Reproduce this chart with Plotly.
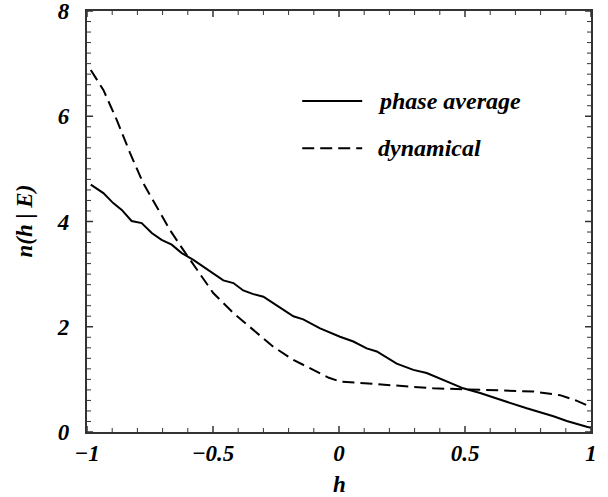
import plotly.graph_objects as go

# phase average (solid)
h_phase = [-0.985, -0.935, -0.896, -0.862, -0.823, -0.783, -0.743, -0.704, -0.664,
           -0.624, -0.578, -0.538, -0.499, -0.459, -0.419, -0.380, -0.340, -0.300,
           -0.261, -0.221, -0.181, -0.142, -0.075, 0.004, 0.057, 0.110, 0.150, 0.229,
           0.295, 0.348, 0.427, 0.493, 0.560, 0.639, 0.745, 0.851, 0.904, 0.983, 1.0]
n_phase = [4.70, 4.54, 4.35, 4.22, 4.01, 3.97, 3.78, 3.65, 3.56,
           3.40, 3.27, 3.14, 3.02, 2.88, 2.83, 2.69, 2.62, 2.57,
           2.45, 2.32, 2.20, 2.14, 1.97, 1.81, 1.72, 1.59, 1.53, 1.30,
           1.18, 1.12, 0.96, 0.83, 0.74, 0.61, 0.45, 0.30, 0.21, 0.10, 0.08]

# dynamical (dashed)
h_dyn = [-0.985, -0.935, -0.882, -0.829, -0.777, -0.723, -0.671, -0.618, -0.565,
         -0.499, -0.419, -0.340, -0.261, -0.181, -0.102, -0.040, 0.004, 0.110,
         0.242, 0.374, 0.507, 0.639, 0.771, 0.877, 0.940, 0.983, 1.0]
n_dyn = [6.88, 6.50, 5.93, 5.30, 4.73, 4.28, 3.84, 3.46, 3.10,
         2.64, 2.26, 1.94, 1.62, 1.37, 1.18, 1.03, 0.96, 0.92,
         0.87, 0.83, 0.81, 0.79, 0.77, 0.70, 0.60, 0.51, 0.48]

legend_names = ["phase average", "dynamical"]

FONT = "Liberation Serif"
DASH = "12px,6px"
tfont = dict(family=FONT, size=23, color="black", weight="bold", style="italic")

X_MIN, X_MAX, X_MINOR_STEPS, X_MAJOR_EVERY = -1.0, 1.0, 20, 5
Y_MIN, Y_MAX, Y_MINOR_STEPS, Y_MAJOR_EVERY = 0.0, 8.0, 40, 10

fig = go.Figure()
fig.add_trace(go.Scatter(x=h_phase, y=n_phase, mode="lines", name=legend_names[0],
                         line=dict(color="black", width=2), showlegend=False))
fig.add_trace(go.Scatter(x=h_dyn, y=n_dyn, mode="lines", name=legend_names[1],
                         line=dict(color="black", width=2, dash=DASH), showlegend=False))

fig.update_xaxes(range=[X_MIN, X_MAX], showline=True, linecolor="#333", linewidth=1.5,
                 mirror=True, ticks="", tick0=-1, dtick=0.5, tickfont=tfont,
                 showgrid=False, zeroline=False,
                 automargin=False, ticklabeloverflow="allow")
fig.update_yaxes(range=[Y_MIN, Y_MAX], showline=True, linecolor="#333", linewidth=1.5,
                 mirror=True, ticks="", tick0=0, dtick=2, tickfont=tfont,
                 showgrid=False, zeroline=False,
                 ticksuffix="\u2002", automargin=False, ticklabeloverflow="allow")

# inside tick marks on all four sides (major every 0.5 / 2, minor every 0.1 / 0.2)
for i in range(X_MINOR_STEPS + 1):
    v = X_MIN + i * (X_MAX - X_MIN) / X_MINOR_STEPS
    major = i % X_MAJOR_EVERY == 0
    ln, w = (6, 1.5) if major else (4, 1)
    for anchor, sgn in ((0, 1), (1, -1)):
        fig.add_shape(type="line", xref="x", yref="paper", ysizemode="pixel",
                      yanchor=anchor, x0=v, x1=v, y0=0, y1=sgn * ln,
                      line=dict(color="#333", width=w))
for i in range(Y_MINOR_STEPS + 1):
    v = Y_MIN + i * (Y_MAX - Y_MIN) / Y_MINOR_STEPS
    major = i % Y_MAJOR_EVERY == 0
    ln, w = (6, 1.5) if major else (4, 1)
    for anchor, sgn in ((0, 1), (1, -1)):
        fig.add_shape(type="line", xref="paper", yref="y", xsizemode="pixel",
                      xanchor=anchor, y0=v, y1=v, x0=0, x1=sgn * ln,
                      line=dict(color="#333", width=w))

# axis titles
fig.add_annotation(xref="paper", yref="paper", x=0.5, y=-0.125, xanchor="center",
                   yanchor="middle", showarrow=False, text="<b><i>h</i></b>",
                   font=dict(family=FONT, size=23, color="black"))
fig.add_annotation(xref="paper", yref="paper", x=-0.125, y=0.5, xanchor="center",
                   yanchor="middle", showarrow=False, text="<b><i>n(h | E)</i></b>",
                   textangle=-90, font=dict(family=FONT, size=23, color="black"))

# legend drawn inside the plot area
leg_y = [0.786, 0.674]
for i, (name, dash) in enumerate(zip(legend_names, ["solid", DASH])):
    fig.add_shape(type="line", xref="paper", yref="paper", x0=0.427, x1=0.546,
                  y0=leg_y[i], y1=leg_y[i], line=dict(color="black", width=2, dash=dash))
    fig.add_annotation(xref="paper", yref="paper", x=0.574, y=leg_y[i], xanchor="left",
                       yanchor="middle", showarrow=False,
                       text=f"<b><i>{name}</i></b>",
                       font=dict(family=FONT, size=24, color="black"))

fig.update_layout(
    width=608, height=497,
    margin=dict(l=87, r=17, t=11, b=65),
    plot_bgcolor="white", paper_bgcolor="white",
    showlegend=False,
)

fig.write_html("out.html")
